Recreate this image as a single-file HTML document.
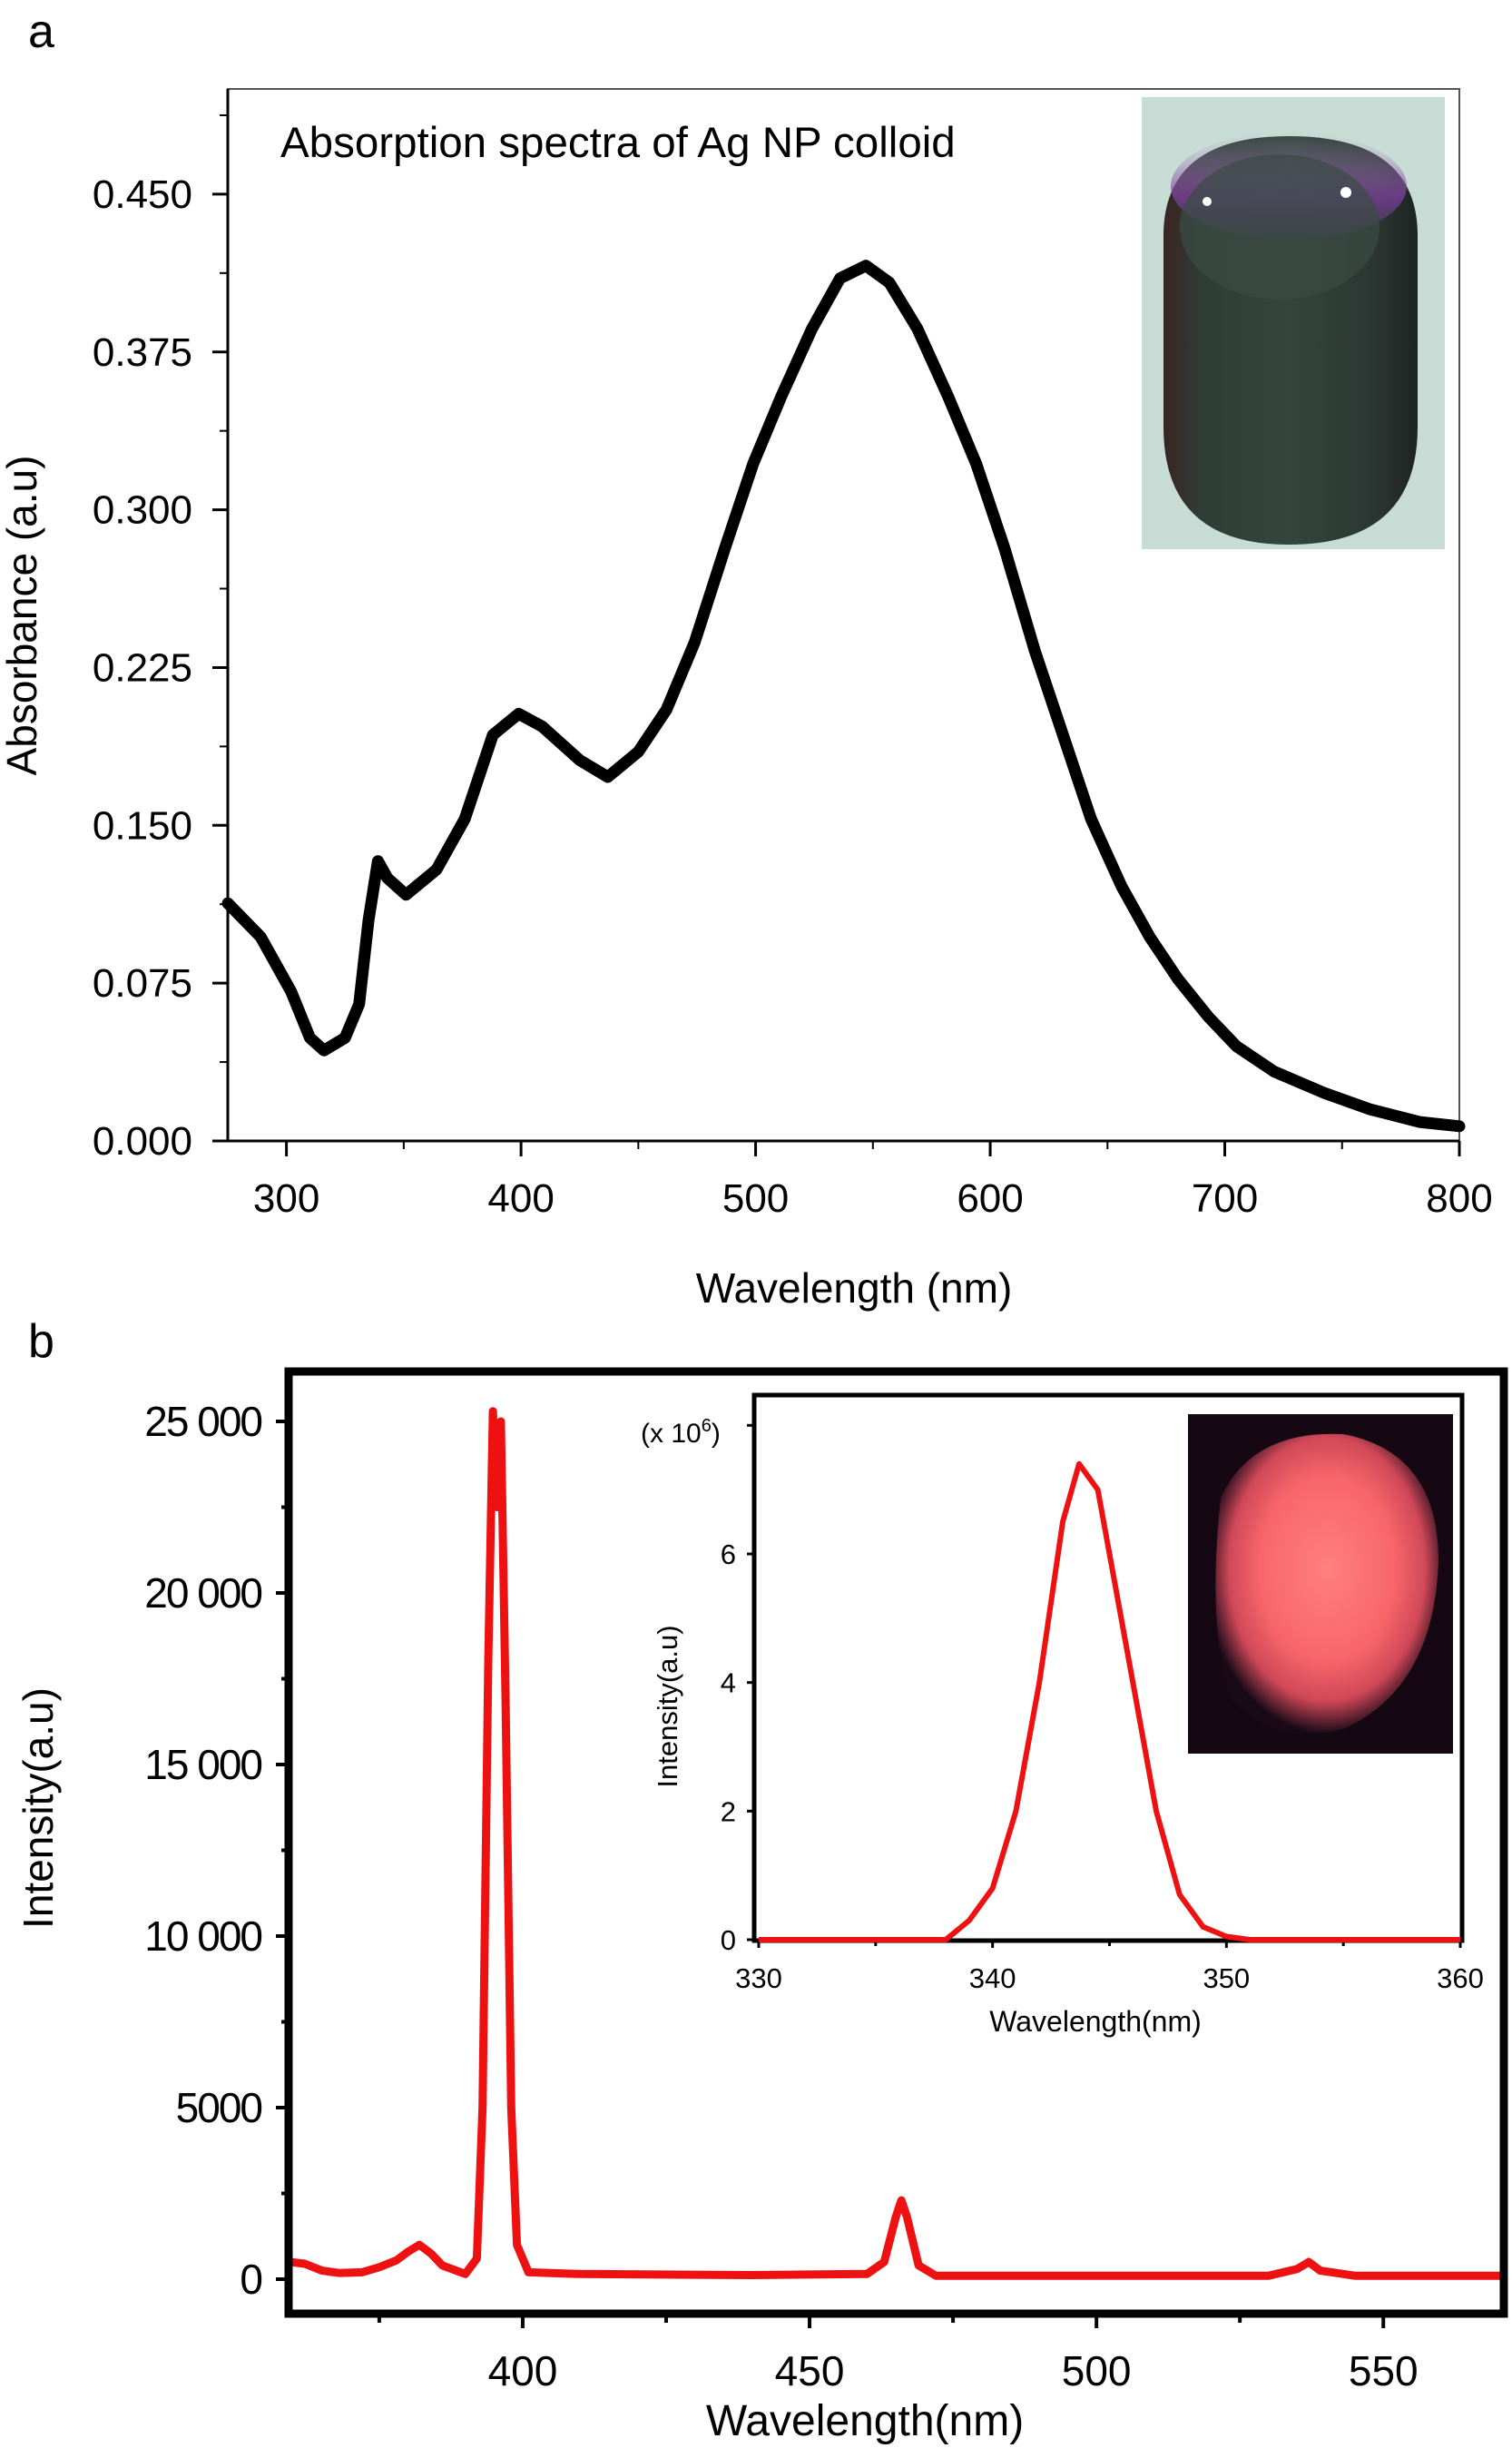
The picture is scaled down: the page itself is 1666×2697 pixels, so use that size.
<!DOCTYPE html>
<html><head><meta charset="utf-8"><style>
html,body{margin:0;padding:0;background:#fff}
svg{display:block}
text{font-family:"Liberation Sans",Arial,sans-serif}
</style></head><body>
<svg id="fig" width="1666" height="2697" viewBox="0 0 1666 2697" xmlns="http://www.w3.org/2000/svg">
<defs>
<linearGradient id="tubeG" x1="0" y1="0" x2="1" y2="0">
<stop offset="0" stop-color="#3a2422"/><stop offset="0.15" stop-color="#2e3d36"/><stop offset="0.5" stop-color="#34453d"/><stop offset="0.85" stop-color="#2a3531"/><stop offset="1" stop-color="#1e2322"/>
</linearGradient>
<linearGradient id="purpG" x1="0" y1="0" x2="0" y2="1">
<stop offset="0" stop-color="#c8b0d8" stop-opacity="0"/><stop offset="0.6" stop-color="#7a3f9a"/><stop offset="1" stop-color="#3a3a48"/>
</linearGradient>
<radialGradient id="glowG" cx="0.5" cy="0.45" r="0.55">
<stop offset="0" stop-color="#ff7f7f"/><stop offset="0.55" stop-color="#f8666a"/><stop offset="0.8" stop-color="#d04858"/><stop offset="1" stop-color="#1a0a18"/>
</radialGradient>
</defs>
<g id="panelA"></g>
<g id="panelB"></g>
<g id="insetB"></g>
</svg>
<script>
// Panel a data
const absWavelength=[275,289,302,310,316,325,331,335,339,343,351,364,376,388,399,409,425,437,450,462,474,487,499,511,524,536,547,557,569,582,594,606,619,631,643,656,668,680,693,705,721,742,762,783,800];
const absValues=[0.113,0.097,0.071,0.049,0.043,0.049,0.065,0.105,0.133,0.125,0.117,0.129,0.153,0.193,0.203,0.197,0.181,0.173,0.185,0.205,0.237,0.282,0.322,0.354,0.386,0.410,0.416,0.408,0.386,0.354,0.322,0.282,0.233,0.193,0.153,0.121,0.097,0.077,0.059,0.045,0.033,0.023,0.015,0.009,0.007];
const absXTicks=[300,400,500,600,700,800];
const absYTicks=[0,0.075,0.150,0.225,0.300,0.375,0.450];
const absYLabels=["0.000","0.075","0.150","0.225","0.300","0.375","0.450"];
// Panel b data
const plWavelength=[359.5,362,365,368,372,375,378,380,382,384,386,390,392,393,394,394.8,395.5,396.2,397,398,399,401,410,440,460,463,465,466,467,469,472,500,530,535,537,539,545,560,571];
const plValues=[500,450,250,180,200,350,550,800,1000,750,400,150,600,5000,18000,25300,22500,25000,17000,5000,1000,200,150,120,150,500,1800,2300,1800,400,100,100,100,300,500,250,100,100,100];
const plXTicks=[400,450,500,550];
const plYTicks=[0,5000,10000,15000,20000,25000];
const plYLabels=["0","5000","10 000","15 000","20 000","25 000"];
// Inset data
const inWavelength=[330,335,338,339,340,341,342,343,343.7,344.5,345,346,347,348,349,350,351,355,360];
const inValues=[0,0,0,0.3,0.8,2,4,6.5,7.4,7,6,4,2,0.7,0.2,0.05,0,0,0];
const inXTicks=[330,340,350,360];
const inYTicks=[0,2,4,6];

const NS="http://www.w3.org/2000/svg";
function mk(parent,tag,attrs,txt){const e=document.createElementNS(NS,tag);for(const k in attrs)e.setAttribute(k,attrs[k]);if(txt!==undefined)e.textContent=txt;parent.appendChild(e);return e;}
function scale(d0,d1,r0,r1){return v=>r0+(v-d0)/(d1-d0)*(r1-r0);}

// ---------- Panel a ----------
(function(){
const g=document.getElementById('panelA');
const L=251,R=1608,T=98,B=1257;
const x=scale(275,800,L,R), y=scale(0,0.5,B,T);
let t=mk(g,'text',{x:31,y:52,'font-size':52});t.textContent='a';

let f=mk(g,'rect',{x:L,y:T,width:R-L,height:B-T,fill:'none',stroke:'#555','stroke-width':2});

mk(g,'line',{x1:L,y1:T,x2:L,y2:B,stroke:'#000','stroke-width':3});
mk(g,'line',{x1:L,y1:B,x2:R,y2:B,stroke:'#000','stroke-width':3});
const ph=mk(g,'g',{});
mk(ph,'rect',{x:1258,y:107,width:334,height:498,fill:'#c6dcd4'});
mk(ph,'path',{d:'M1282 260 Q1282 150 1420 150 Q1562 150 1562 260 L1562 470 Q1562 600 1420 600 Q1282 600 1282 470 Z',fill:'url(#tubeG)'});
mk(ph,'ellipse',{cx:1420,cy:205,rx:130,ry:60,fill:'url(#purpG)',opacity:0.8});
mk(ph,'ellipse',{cx:1410,cy:250,rx:110,ry:80,fill:'#3b4c45',opacity:0.7});
mk(ph,'circle',{cx:1330,cy:222,r:5,fill:'#fff'});
mk(ph,'circle',{cx:1483,cy:212,r:6,fill:'#fff'});
t=mk(g,'text',{x:309,y:173,'font-size':47.5});t.textContent='Absorption spectra of Ag NP colloid';

absYTicks.forEach((v,i)=>{mk(g,'line',{x1:L-17,y1:y(v),x2:L,y2:y(v),stroke:'#000','stroke-width':3});
 const tl=mk(g,'text',{x:212,y:y(v)+15,'font-size':44,'text-anchor':'end'});tl.textContent=absYLabels[i];
 
 if(i<absYTicks.length-1){const m=(v+absYTicks[i+1])/2;mk(g,'line',{x1:L-9,y1:y(m),x2:L,y2:y(m),stroke:'#000','stroke-width':2});}
});
mk(g,'line',{x1:L-9,y1:y(0.4875),x2:L,y2:y(0.4875),stroke:'#000','stroke-width':2});
absXTicks.forEach((v,i)=>{mk(g,'line',{x1:x(v),y1:B,x2:x(v),y2:B+17,stroke:'#000','stroke-width':3});
 const tl=mk(g,'text',{x:x(v),y:1335,'font-size':44,'text-anchor':'middle'});tl.textContent=String(v);
 
 if(i<absXTicks.length-1){mk(g,'line',{x1:x(v+50),y1:B,x2:x(v+50),y2:B+9,stroke:'#000','stroke-width':2});}
});
t=mk(g,'text',{x:941,y:1435,'font-size':46,'text-anchor':'middle'});t.textContent='Wavelength (nm)';

t=mk(g,'text',{x:0,y:0,'font-size':46,'text-anchor':'middle',transform:'translate(40 678) rotate(-90)'});t.textContent='Absorbance (a.u)';

let d=absWavelength.map((w,i)=>(i?'L':'M')+x(w).toFixed(1)+' '+y(absValues[i]).toFixed(1)).join(' ');
const p=mk(g,'path',{d:d,fill:'none',stroke:'#000','stroke-width':13,'stroke-linejoin':'round','stroke-linecap':'round'});

})();

// ---------- Panel b ----------
(function(){
const g=document.getElementById('panelB');
const L=318,R=1657,T=1511,B=2549;
const x=scale(359.2,571,L,R), y=scale(0,25000,2511,1566);
let t=mk(g,'text',{x:31,y:1495,'font-size':52});t.textContent='b';

plYTicks.forEach((v,i)=>{mk(g,'line',{x1:L-14,y1:y(v),x2:L,y2:y(v),stroke:'#000','stroke-width':4});
 const tl=mk(g,'text',{x:288,y:y(v)+16,'font-size':46,'text-anchor':'end','letter-spacing':-2});tl.textContent=plYLabels[i];
 
 if(i<plYTicks.length-1)mk(g,'line',{x1:L-8,y1:y(v+2500),x2:L,y2:y(v+2500),stroke:'#000','stroke-width':4});
});
plXTicks.forEach(v=>{mk(g,'line',{x1:x(v),y1:B,x2:x(v),y2:B+16,stroke:'#000','stroke-width':4});
 const tl=mk(g,'text',{x:x(v),y:2628,'font-size':46,'text-anchor':'middle'});tl.textContent=String(v);
 });
[375,425,475,525].forEach(v=>mk(g,'line',{x1:x(v),y1:B,x2:x(v),y2:B+10,stroke:'#000','stroke-width':4}));
t=mk(g,'text',{x:953,y:2683,'font-size':48,'text-anchor':'middle'});t.textContent='Wavelength(nm)';

t=mk(g,'text',{x:0,y:0,'font-size':46,'text-anchor':'middle',transform:'translate(58 1992) rotate(-90)'});t.textContent='Intensity(a.u)';

let d=plWavelength.map((w,i)=>(i?'L':'M')+x(w).toFixed(1)+' '+y(plValues[i]).toFixed(1)).join(' ');
const p=mk(g,'path',{d:d,fill:'none',stroke:'#ee1111','stroke-width':9,'stroke-linejoin':'round'});

const f=mk(g,'rect',{x:L,y:T,width:R-L,height:B-T,fill:'none',stroke:'#000','stroke-width':9});

})();

// ---------- Inset ----------
(function(){
const g=document.getElementById('insetB');
const L=831,R=1611,T=1537,B=2138;
const x=scale(330,360,836,1609), y=scale(0,6,2137,1712);
const ph=mk(g,'g',{});
mk(ph,'rect',{x:1309,y:1558,width:292,height:374,fill:'#150812'});
mk(ph,'path',{d:'M1345 1650 Q1380 1575 1480 1580 Q1585 1600 1585 1720 Q1580 1860 1480 1905 Q1400 1925 1355 1870 Q1330 1790 1345 1650 Z',fill:'url(#glowG)'});
const f=mk(g,'rect',{x:L,y:T,width:R-L,height:B-T,fill:'none',stroke:'#000','stroke-width':5});

inYTicks.forEach(v=>{mk(g,'line',{x1:L-8,y1:y(v),x2:L,y2:y(v),stroke:'#000','stroke-width':3});
 const tl=mk(g,'text',{x:811,y:y(v)+11,'font-size':31,'text-anchor':'end'});tl.textContent=String(v);
 });
mk(g,'line',{x1:L-8,y1:y(8),x2:L,y2:y(8),stroke:'#000','stroke-width':3});
inXTicks.forEach(v=>{mk(g,'line',{x1:x(v),y1:B,x2:x(v),y2:B+8,stroke:'#000','stroke-width':3});
 const tl=mk(g,'text',{x:x(v),y:2190,'font-size':31,'text-anchor':'middle'});tl.textContent=String(v);
 });
[335,345,355].forEach(v=>mk(g,'line',{x1:x(v),y1:B,x2:x(v),y2:B+6,stroke:'#000','stroke-width':3}));
let t=mk(g,'text',{x:706,y:1589,'font-size':30});

t.innerHTML='(x 10<tspan dy="-12" font-size="20">6</tspan><tspan dy="12">)</tspan>';
t=mk(g,'text',{x:1207,y:2238,'font-size':32,'text-anchor':'middle'});t.textContent='Wavelength(nm)';

t=mk(g,'text',{x:0,y:0,'font-size':31,'text-anchor':'middle',transform:'translate(746 1880) rotate(-90)'});t.textContent='Intensity(a.u)';

let d=inWavelength.map((w,i)=>(i?'L':'M')+x(w).toFixed(1)+' '+y(inValues[i]).toFixed(1)).join(' ');
const p=mk(g,'path',{d:d,fill:'none',stroke:'#ee1111','stroke-width':6,'stroke-linejoin':'round'});

})();
</script>
</body></html>
